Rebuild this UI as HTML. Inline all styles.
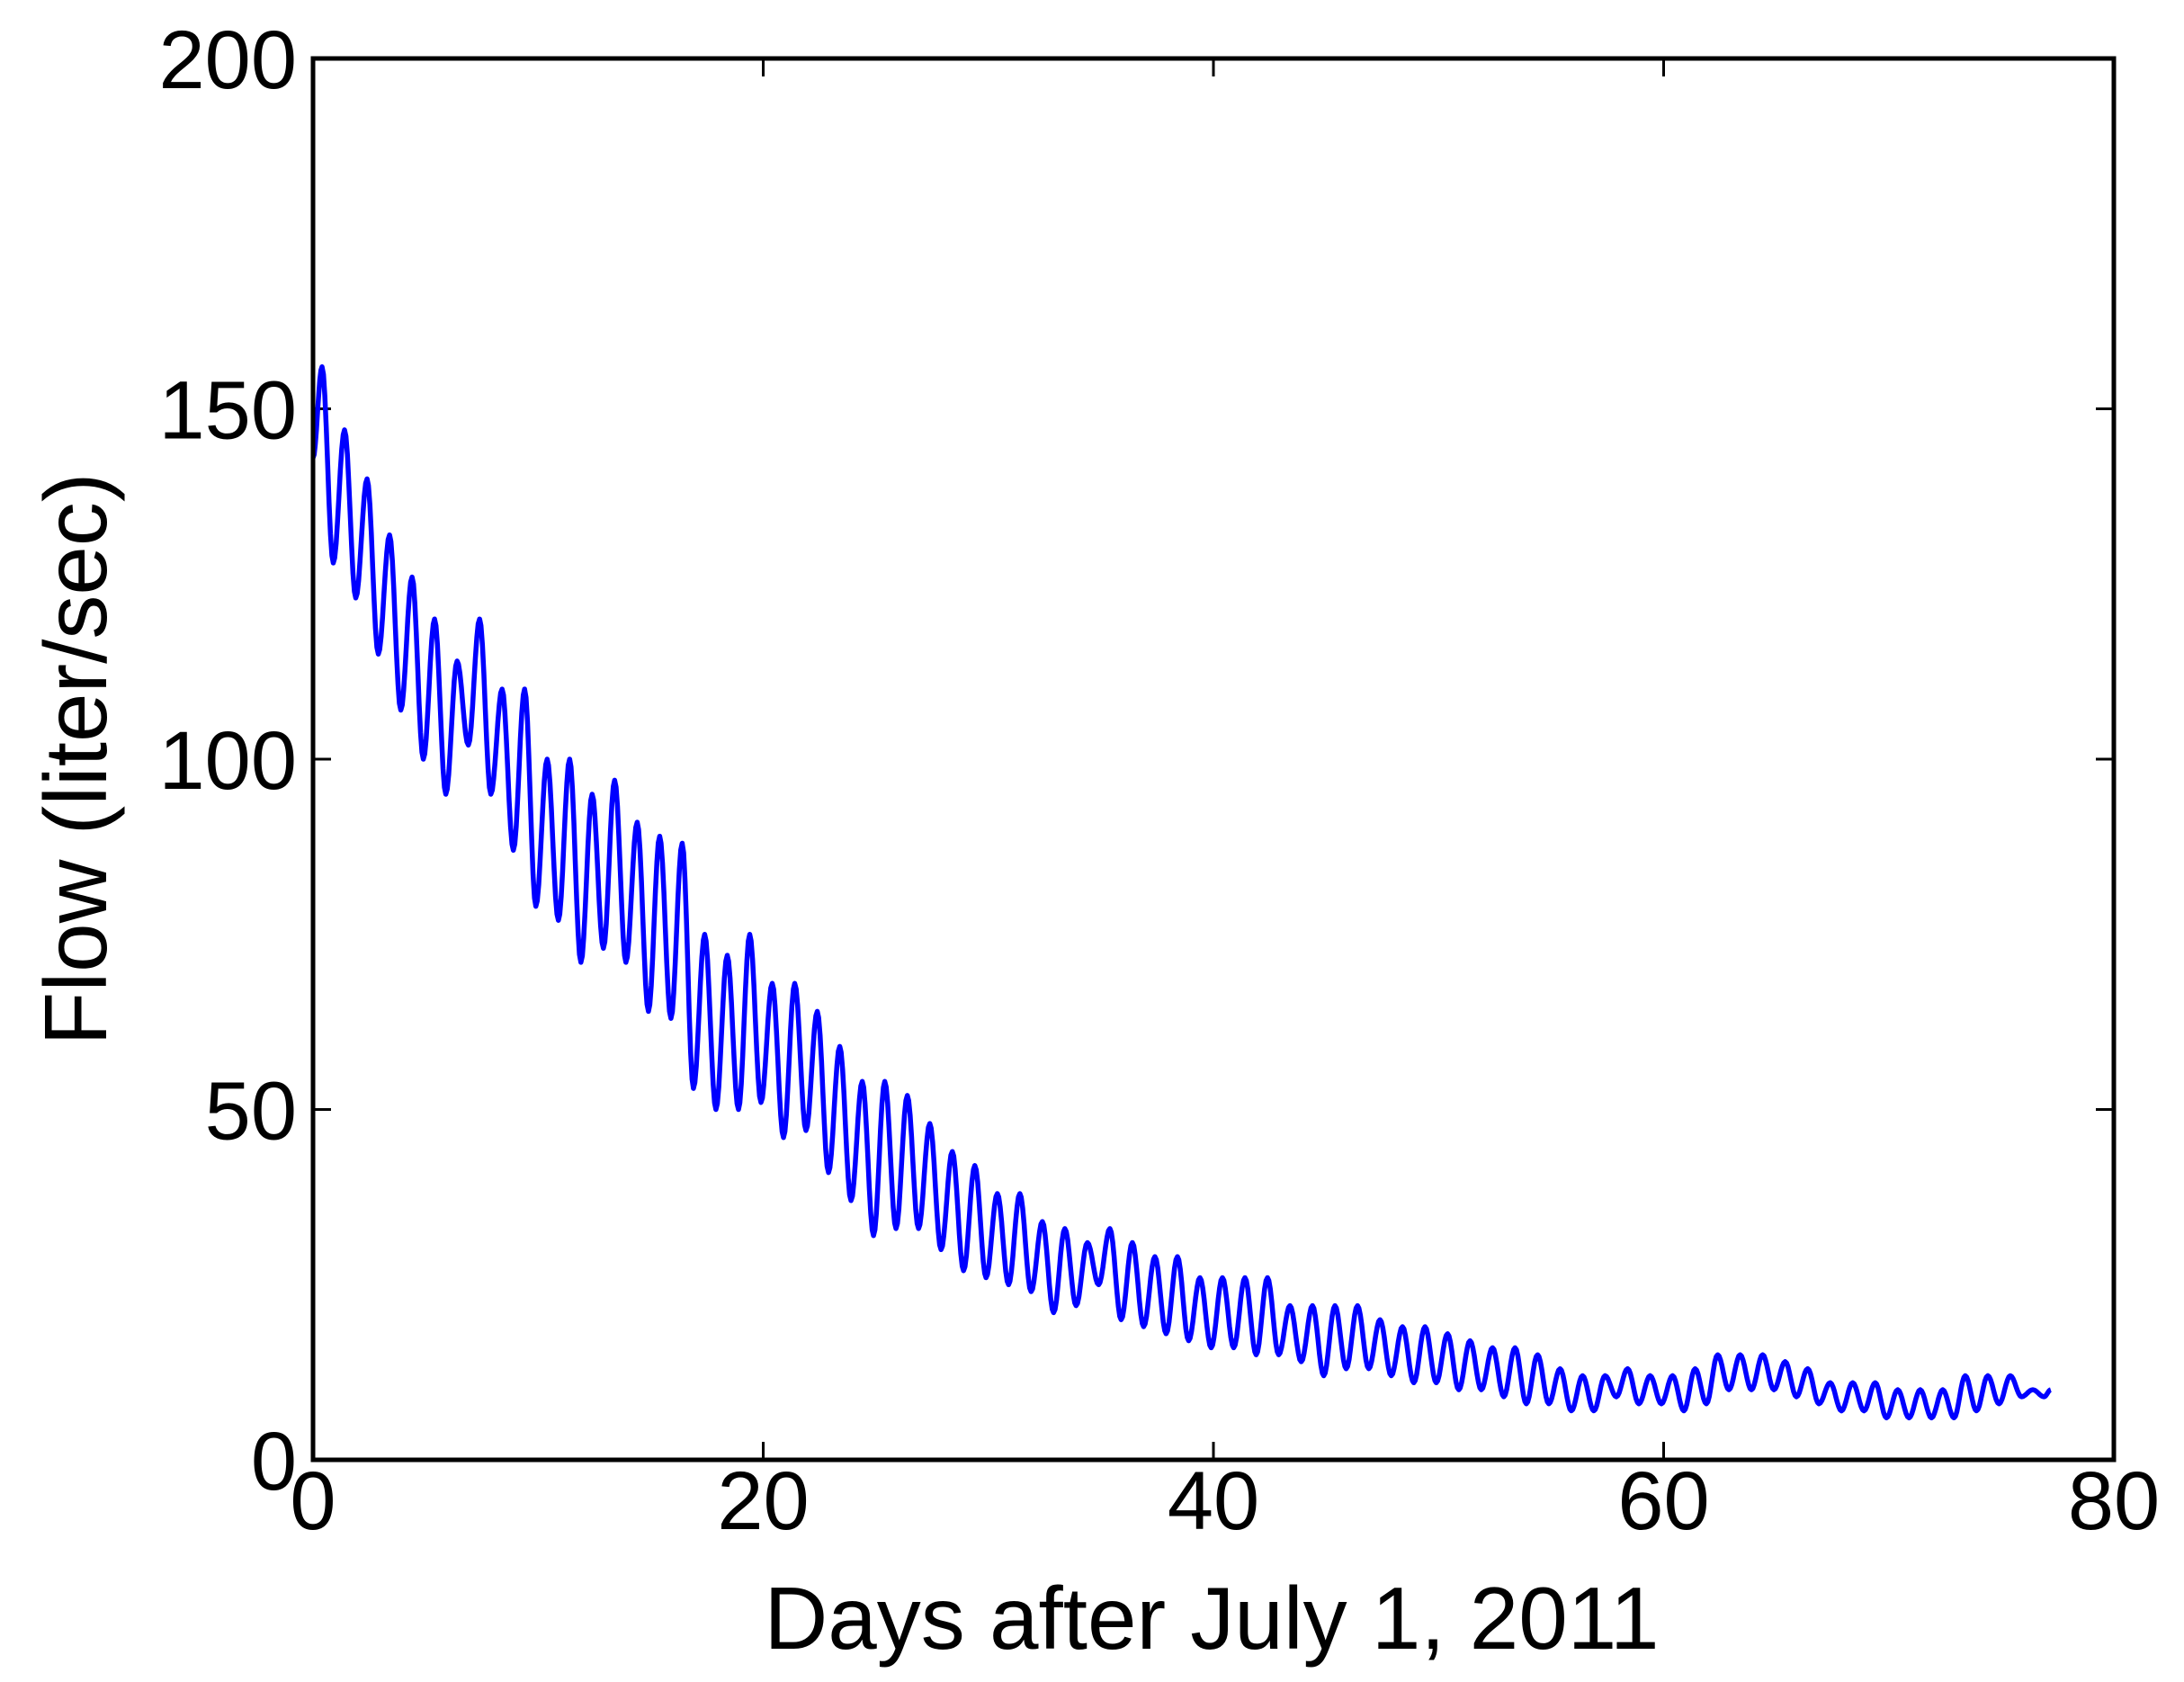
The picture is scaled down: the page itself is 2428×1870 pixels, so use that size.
<!DOCTYPE html>
<html><head><meta charset="utf-8"><style>
html,body{margin:0;padding:0;background:#fff;}
svg{display:block;font-family:"Liberation Sans",Arial,sans-serif;}
</style></head><body>
<svg id="chart" width="2428" height="1870" viewBox="0 0 2428 1870">
<rect width="2428" height="1870" fill="#fff"/>
<g id="ticks"></g>
<path id="series" fill="none" stroke="#0000ff" stroke-width="5.5" stroke-linejoin="round"/>
<rect x="348" y="65" width="2002" height="1558" fill="none" stroke="#000" stroke-width="5"/>
<text x="1347" y="1833" font-size="98" text-anchor="middle">Days after July 1, 2011</text>
<text transform="translate(118,844) rotate(-90)" font-size="98" text-anchor="middle">Flow (liter/sec)</text>
</svg>
<script>
const xTicks=[0,20,40,60,80];
const yTicks=[0,50,100,150,200];
const startValue=143;
const dailyPeaks=[156,147,140,132,126,120,114,120,110,110,100,100,95,97,91,89,88,75,72,75,68,68,64,59,54,54,52,48,44,42,38,38,34,33,31,33,31,29,29,26,26,26,26,22,22,22,22,20,19,19,18,17,16,16,15,13,12,12,13,12,12,13,15,15,15,14,13,11,11,11,10,10,10,12,12,12,10];
const dailyTroughs=[128,123,115,107,100,95,102,95,87,79,77,71,73,71,64,63,53,50,50,51,46,47,41,37,32,33,33,30,27,26,25,24,21,22,25,20,19,18,17,16,16,15,15,14,12,13,13,12,11,11,10,10,9,8,8,7,7,9,8,8,7,8,10,10,10,9,8,7,7,6,6,6,6,7,8,9,9];
const endValue=10;
const X0=348,X1=2350,Y0=1623,Y1=65;
const xs=v=>X0+(v-0)/(80-0)*(X1-X0);
const ys=v=>Y0+(v-0)/(200-0)*(Y1-Y0);
const NS="http://www.w3.org/2000/svg";
const tg=document.getElementById('ticks');
xTicks.forEach(t=>{
  const x=xs(t);
  const l=document.createElementNS(NS,'path');
  l.setAttribute('d',`M${x},${Y0}v-20M${x},${Y1}v20`);
  l.setAttribute('stroke','#000');l.setAttribute('stroke-width','3');
  
  
  tg.appendChild(l);
  const tx=document.createElementNS(NS,'text');
  tx.setAttribute('x',x);tx.setAttribute('y',1700);
  tx.setAttribute('font-size','92');tx.setAttribute('text-anchor','middle');
  tx.textContent=t;
  
  
  tg.appendChild(tx);
});
yTicks.forEach(t=>{
  const y=ys(t);
  const l=document.createElementNS(NS,'path');
  l.setAttribute('d',`M${X0},${y}h20M${X1},${y}h-20`);
  l.setAttribute('stroke','#000');l.setAttribute('stroke-width','3');
  
  
  tg.appendChild(l);
  const tx=document.createElementNS(NS,'text');
  tx.setAttribute('x',330);tx.setAttribute('y',y+33);
  tx.setAttribute('font-size','92');tx.setAttribute('text-anchor','end');
  tx.textContent=t;
  
  
  tg.appendChild(tx);
});
const kp=[[0,startValue]];
for(let d=0;d<dailyPeaks.length;d++){
  kp.push([d+0.4,dailyPeaks[d]]);
  if(d<dailyTroughs.length) kp.push([d+0.9,dailyTroughs[d]]);
}
kp.push([dailyPeaks.length+0.2,endValue]);
let dstr='';
for(let i=0;i<kp.length-1;i++){
  const [xa,ya]=kp[i],[xb,yb]=kp[i+1];
  const n=8;
  for(let k=0;k<=n;k++){
    if(i>0&&k===0)continue;
    const f=k/n, s=(1-Math.cos(Math.PI*f))/2;
    const x=xa+(xb-xa)*f, y=ya+(yb-ya)*s;
    dstr+=(dstr?'L':'M')+xs(x).toFixed(1)+','+ys(y).toFixed(1);
  }
}
document.getElementById('series').setAttribute('d',dstr);
</script>
</body></html>
